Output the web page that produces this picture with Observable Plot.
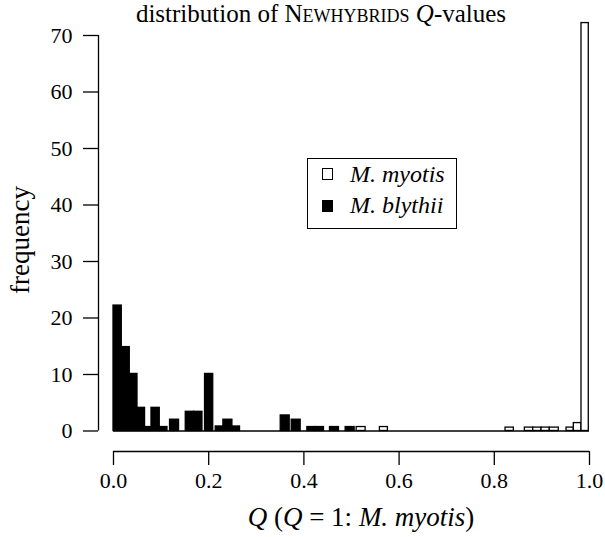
<!DOCTYPE html>
<html><head><meta charset="utf-8">
<script src="https://cdn.jsdelivr.net/npm/d3@7"></script>
<script src="https://cdn.jsdelivr.net/npm/@observablehq/plot@0.6"></script>
<style>
body{margin:0;background:#fff;}
#wrap{position:relative;width:605px;height:537px;font-family:"Liberation Serif","Times New Roman",serif;color:#000;}
#wrap svg{position:absolute;left:0;top:0;}
#wrap svg text{font-family:"Liberation Serif","Times New Roman",serif !important;}
.lbl{position:absolute;white-space:nowrap;}
.sw{position:absolute;width:11.6px;height:11.6px;box-sizing:border-box;border:1.3px solid #000;}
</style></head><body>
<div id="wrap"></div>
<script>
// M. blythii histogram bars (bin lower/upper Q bounds and frequency)
const blythiiLo = [0.000, 0.0174, 0.0342, 0.0504, 0.0663, 0.0798, 0.0972, 0.1188, 0.1518, 0.1692, 0.1923, 0.2148, 0.2309, 0.2498, 0.3513, 0.3744, 0.4073, 0.4247, 0.4548, 0.4877];
const blythiiHi = [0.0174, 0.0342, 0.0504, 0.0663, 0.0798, 0.0972, 0.1134, 0.1377, 0.1692, 0.1869, 0.2095, 0.2309, 0.2498, 0.2658, 0.3702, 0.3932, 0.4247, 0.4422, 0.4737, 0.5066];
const blythiiFreq = [22.2, 14.85, 10.1, 4.1, 0.7, 4.1, 0.7, 2.0, 3.4, 3.4, 10.1, 0.8, 2.0, 0.8, 2.75, 2.0, 0.7, 0.7, 0.7, 0.7];
// M. myotis histogram bars
const myotisLo = [0.5108, 0.5597, 0.8236, 0.8642, 0.8818, 0.8992, 0.9166, 0.9517, 0.9670, 0.9832];
const myotisHi = [0.5297, 0.5765, 0.8411, 0.8818, 0.8992, 0.9166, 0.9355, 0.9670, 0.9832, 0.9985];
const myotisFreq = [0.7, 0.7, 0.6, 0.6, 0.6, 0.6, 0.6, 0.6, 1.4, 72.2];
// axis ticks
const xTicks = [0, 0.2, 0.4, 0.6, 0.8, 1.0];
const yTicks = [0, 10, 20, 30, 40, 50, 60, 70];

const blythii = blythiiLo.map((lo, i) => ({lo, hi: blythiiHi[i], freq: blythiiFreq[i]}));
const myotis = myotisLo.map((lo, i) => ({lo, hi: myotisHi[i], freq: myotisFreq[i]}));

const xDomain = [-0.0315, 1];
const yDomain = [-3.63, 70];
const sw = 1.3;
const serif = "'Liberation Serif', 'Times New Roman', serif";

const chart = Plot.plot({
  width: 605, height: 537,
  marginLeft: 98, marginRight: 16, marginTop: 35, marginBottom: 86,
  style: "font-family: 'Liberation Serif', 'Times New Roman', serif; font-size: 22px; color: #000; background: transparent;",
  x: {domain: xDomain},
  y: {domain: yDomain},
  marks: [
    Plot.ruleY([0], {x1: xTicks[0], x2: xTicks[xTicks.length - 1], stroke: "#000", strokeWidth: sw}),
    Plot.rect(blythii, {x1: "lo", x2: "hi", y1: 0, y2: "freq", fill: "#000", stroke: "#000", strokeWidth: sw}),
    Plot.rect(myotis, {x1: "lo", x2: "hi", y1: 0, y2: "freq", fill: "#fff", stroke: "#000", strokeWidth: sw}),
    Plot.axisY(yTicks, {tickSize: 15, tickPadding: 11, fontSize: 22, fontFamily: serif, label: null, strokeWidth: sw}),
    Plot.ruleX([xDomain[0]], {y1: yTicks[0], y2: yTicks[yTicks.length - 1], stroke: "#000", strokeWidth: sw}),
    Plot.axisX(xTicks, {tickSize: 14, tickPadding: 7, fontSize: 22, fontFamily: serif, tickFormat: d3.format(".1f"), label: null, strokeWidth: sw}),
    Plot.ruleY([yDomain[0]], {x1: xTicks[0], x2: xTicks[xTicks.length - 1], stroke: "#000", strokeWidth: sw})
  ]
});
chart.setAttribute("font-family", serif);
d3.select(chart).selectAll("g, text").style("font-family", serif).attr("font-family", serif).style("font-variant", "normal");
const wrap = document.getElementById("wrap");
wrap.appendChild(chart);

function add(html, style, cls = "lbl") {
  const d = document.createElement("div");
  d.className = cls;
  d.innerHTML = html;
  Object.assign(d.style, style);
  wrap.appendChild(d);
  return d;
}
// title
add('distribution of <span style="font-variant:small-caps">Newhybrids</span> <i>Q</i>-values',
  {left: "71px", width: "500px", textAlign: "center", top: "0.5px", fontSize: "25px", lineHeight: "25px"});
// x label
add('<i>Q</i> (<i>Q</i> = 1: <i>M. myotis</i>)',
  {left: "111px", width: "500px", textAlign: "center", top: "504.4px", fontSize: "27px", lineHeight: "27px"});
// y label
add('frequency', {left: "20px", top: "240px", fontSize: "27px", lineHeight: "27px", transform: "translate(-50%,-50%) rotate(-90deg)"});
// legend
add('', {left: "306.5px", top: "157.5px", width: "150px", height: "71px", border: "1.3px solid #000", boxSizing: "border-box"});
add('', {left: "321.7px", top: "168.3px", background: "#fff"}, "sw");
add('', {left: "321.7px", top: "200px", background: "#000"}, "sw");
add('<i>M. myotis</i>', {left: "350px", top: "161.6px", fontSize: "24px", lineHeight: "24px"});
add('<i>M. blythii</i>', {left: "350px", top: "192.6px", fontSize: "24px", lineHeight: "24px"});
</script></body></html>
